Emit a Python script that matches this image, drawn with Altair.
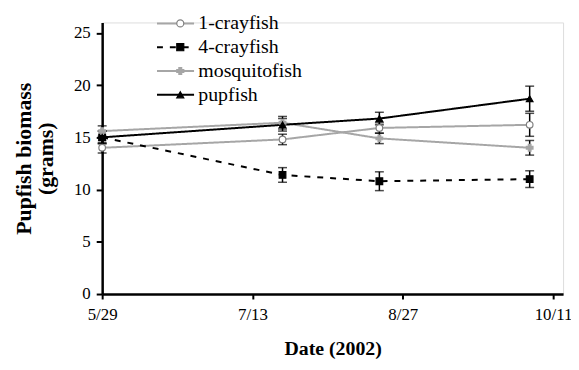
import altair as alt
import pandas as pd

series = ["1-crayfish", "4-crayfish", "mosquitofish", "pupfish"]
dates = ["2002-05-29", "2002-07-22", "2002-08-20", "2002-10-04"]
vals = {
    "1-crayfish":   [14.0, 14.8, 15.9, 16.2],
    "4-crayfish":   [15.0, 11.4, 10.8, 11.0],
    "mosquitofish": [15.6, 16.4, 14.9, 14.0],
    "pupfish":      [15.0, 16.2, 16.8, 18.7],
}
errs = {
    "1-crayfish":   [0.5, 0.5, 0.5, 1.1],
    "4-crayfish":   [0.6, 0.7, 0.9, 0.8],
    "mosquitofish": [0.5, 0.6, 0.5, 0.7],
    "pupfish":      [0.6, 0.6, 0.6, 1.2],
}
tick_dates = ["2002-05-29", "2002-07-13", "2002-08-27", "2002-10-11"]

# marker legend uses keys that differ from the line legend so the two are not merged
marker_keys = [s + " " for s in series]

rows = []
for s, mk in zip(series, marker_keys):
    for d, v, e in zip(dates, vals[s], errs[s]):
        rows.append({"series": s, "marker": mk, "date": d, "value": v,
                     "lo": v - e, "hi": v + e})
df = pd.DataFrame(rows)

grey = "#a6a6a6"
line_colors = [grey, "#000000", grey, "#000000"]
dashes = [[1, 0], [6, 7], [1, 0], [1, 0]]
widths = [2, 2, 2, 3]
shapes = ["circle", "square", "cross", "triangle-up"]
fills = ["#ffffff", "#000000", grey, "#000000"]
strokes = ["#808080", "#000000", grey, "#000000"]

font = "Liberation Serif"

x_enc = alt.X("date:T", title="Date (2002)",
              scale=alt.Scale(domain=["2002-05-29", "2002-10-14"]),
              axis=alt.Axis(values=tick_dates, format="%-m/%-d", grid=False,
                            domainColor="black", domainWidth=2.5, tickColor="black",
                            tickWidth=2, tickSize=5, labelFont=font, labelFontSize=17,
                            labelColor="black", labelPadding=8,
                            titleFont=font, titleFontSize=20, titleFontWeight="bold",
                            titleColor="black", titlePadding=16, labelFlush=False))
y_enc = alt.Y("value:Q", title=["Pupfish biomass", "(grams)"],
              scale=alt.Scale(domain=[0, 25]),
              axis=alt.Axis(values=[0, 5, 10, 15, 20, 25], grid=False,
                            domainColor="black", domainWidth=2.5, tickColor="black",
                            tickWidth=2, tickSize=6, labelFont=font, labelFontSize=17,
                            labelColor="black", labelPadding=6,
                            titleFont=font, titleFontSize=22, titleFontWeight="bold",
                            titleColor="black", titlePadding=16, titleLineHeight=22))

legA = alt.Legend(title=None, orient="none", legendX=54, legendY=-9,
                  symbolType="stroke", symbolSize=1400, clipHeight=20, rowPadding=4,
                  labelFont=font, labelFontSize=20, labelColor="black", labelOffset=3)
legB = alt.Legend(title=None, orient="none", legendX=54 + 14.8, legendY=-9,
                  symbolSize=50, clipHeight=20, rowPadding=4,
                  labelFont=font, labelFontSize=20, labelExpr="''",
                  labelOffset=0, symbolStrokeWidth=1.2)

lines = alt.Chart(df).mark_line().encode(
    x=x_enc, y=y_enc,
    color=alt.Color("series:N", scale=alt.Scale(domain=series, range=line_colors), legend=legA),
    strokeDash=alt.StrokeDash("series:N", scale=alt.Scale(domain=series, range=dashes), legend=legA),
    strokeWidth=alt.StrokeWidth("series:N", scale=alt.Scale(domain=series, range=widths), legend=legA),
)

bars = alt.Chart(df).mark_errorbar(ticks=alt.TickConfig(size=9, thickness=1.5),
                                   thickness=1.5, color="black").encode(
    x="date:T",
    y=alt.Y("lo:Q", title=["Pupfish biomass", "(grams)"]),
    y2="hi:Q",
)

points = alt.Chart(df).mark_point(size=45, opacity=1, strokeWidth=1.2).encode(
    x="date:T", y="value:Q",
    shape=alt.Shape("marker:N", scale=alt.Scale(domain=marker_keys, range=shapes), legend=legB),
    fill=alt.Fill("marker:N", scale=alt.Scale(domain=marker_keys, range=fills), legend=legB),
    stroke=alt.Stroke("marker:N", scale=alt.Scale(domain=marker_keys, range=strokes), legend=legB),
)

chart = alt.layer(lines, bars, points).properties(
    width=465, height=274,
    padding={"left": 95, "top": 13, "right": 8, "bottom": 67},
    autosize=alt.AutoSizeParams(type="none"),
).configure_view(stroke=None).configure_legend(labelFont=font).configure(background="white")

chart.save("out.html", embed_options={"renderer": "svg", "actions": False})
